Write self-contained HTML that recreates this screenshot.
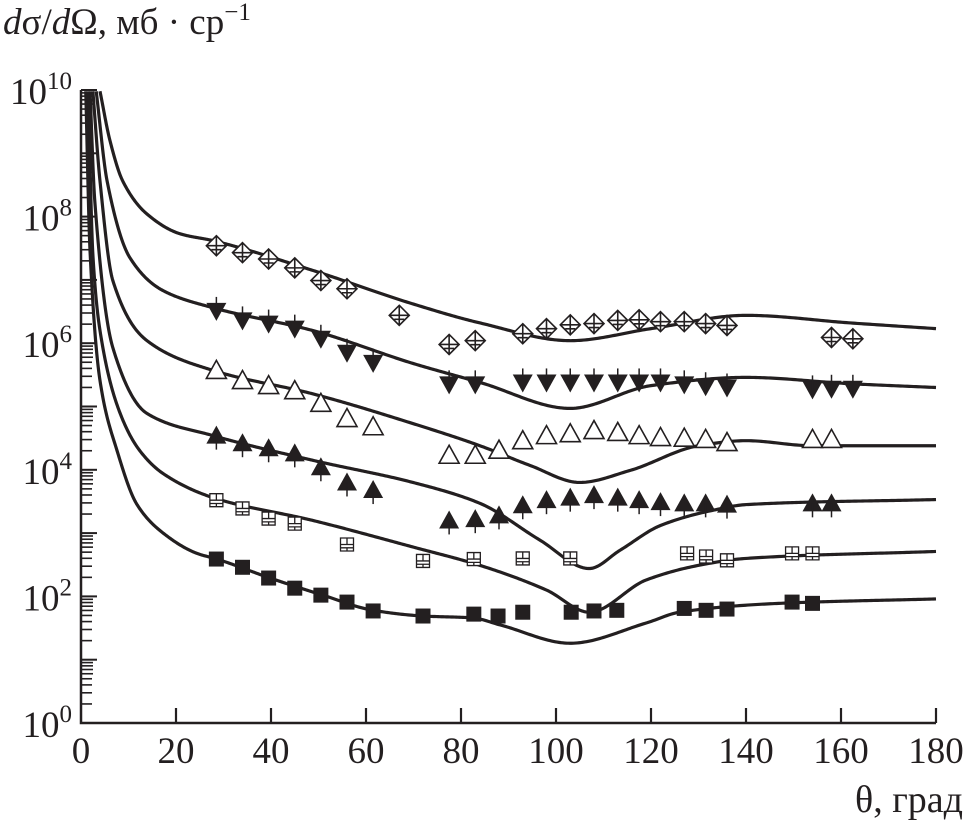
<!DOCTYPE html>
<html><head><meta charset="utf-8"><style>
html,body{margin:0;padding:0;background:#fff;}
svg{display:block;font-family:"Liberation Serif",serif;}
</style></head><body>
<svg id="chart" width="966" height="827" viewBox="0 0 966 827" xmlns="http://www.w3.org/2000/svg">
<text x="3" y="34" font-size="37" fill="#231f20"><tspan font-style="italic">d</tspan>σ/<tspan font-style="italic">d</tspan>Ω, мб · ср<tspan font-size="25" dy="-14">−1</tspan></text>
<text x="963" y="812" font-size="38" fill="#231f20" text-anchor="end">θ, град</text>
<g id="axes"></g><g id="curves"></g><g id="marks"></g>
</svg>
<script>
const xTicks=[0,20,40,60,80,100,120,140,160,180];
const yDecades=[0,2,4,6,8,10];
const curve1T=[4,6.1,8.8,13.9,20.8,27.8,48.8,69.9,84,103,120,140,162,180];
const curve1L=[9.98,9.2,8.56,8.04,7.73,7.62,7.15,6.62,6.32,6.04,6.23,6.44,6.32,6.23];
const curve2T=[3.2,5.5,10.3,17.3,27.8,48.8,69.9,84,103,120,140,162,180];
const curve2L=[9.98,8.56,7.35,6.83,6.56,6.2,5.68,5.38,4.97,5.33,5.46,5.36,5.3];
const curve3T=[2.5,4,6.7,13.9,27.8,48.8,69.9,84,94.5,105,115.6,130,140,154,180];
const curve3L=[9.98,8.56,6.99,6.04,5.57,5.2,4.73,4.38,4.07,3.8,3.99,4.38,4.46,4.38,4.38];
const curve4T=[1.9,2.9,6.7,13.9,27.8,48.8,69.9,84,96.6,107,113.5,122,133,140,180];
const curve4L=[9.98,8.25,5.93,4.89,4.54,4.15,3.8,3.47,2.89,2.44,2.73,3.12,3.36,3.45,3.53];
const curve5T=[1.5,2.5,4,8.2,12.4,17.3,27.8,48.8,69.9,84,98,107,119,130,140,180];
const curve5L=[9.98,7.4,6.2,4.9,4.3,3.94,3.56,3.2,2.78,2.49,2.1,1.75,2.26,2.49,2.6,2.71];
const curve6T=[1,1.9,4,7.6,11.8,17.3,24.4,28.6,39.8,50.9,61.5,72,82.5,88.2,103,119,126,147,180];
const curve6L=[9.98,7.46,5.41,4.3,3.45,3.0,2.68,2.59,2.29,2.02,1.78,1.69,1.66,1.55,1.26,1.58,1.75,1.89,1.96];
const diamT=[28.5,34,39.5,45,50.5,56,67,77.5,83,93,98,103,108,113,117.5,122,127,131.5,136,158,162.5];
const diamL=[7.54,7.43,7.33,7.19,6.99,6.86,6.44,5.98,6.04,6.15,6.23,6.29,6.31,6.36,6.37,6.34,6.34,6.31,6.28,6.09,6.07];
const invT=[28.5,34,39.5,45,50.5,56,61.5,77.5,83,93,98,103,108,113,117.5,122,127,131.5,136,154,158,162.5];
const invL=[6.51,6.36,6.31,6.23,6.07,5.85,5.69,5.35,5.35,5.38,5.38,5.38,5.38,5.38,5.38,5.38,5.35,5.32,5.3,5.27,5.28,5.28];
const openT=[28.5,34,39.5,45,50.5,56,61.5,77.5,83,88,93,98,103,108,113,117.5,122,127,131.5,136,154,158];
const openL=[5.57,5.41,5.33,5.25,5.05,4.81,4.68,4.23,4.23,4.31,4.46,4.54,4.57,4.62,4.59,4.54,4.51,4.5,4.48,4.43,4.48,4.48];
const filledTriT=[28.5,34,39.5,45,50.5,56,61.5,77.5,83,88,93,98,103,108,113,117.5,122,127,131.5,136,154,158];
const filledTriL=[4.54,4.42,4.34,4.26,4.04,3.8,3.68,3.2,3.22,3.28,3.44,3.52,3.56,3.6,3.56,3.52,3.49,3.47,3.47,3.45,3.47,3.47];
const gridSqT=[28.5,34,39.5,45,56,72,82.7,93,103,127.6,131.6,136,149.7,154];
const gridSqL=[3.52,3.39,3.23,3.15,2.82,2.56,2.59,2.6,2.6,2.68,2.63,2.57,2.68,2.68];
const sqT=[28.5,34,39.5,45,50.5,56,61.5,72,82.7,87.8,93,103.2,108,112.8,127,131.6,136,149.7,154];
const sqL=[2.59,2.46,2.29,2.13,2.02,1.91,1.77,1.69,1.72,1.69,1.75,1.75,1.77,1.78,1.81,1.78,1.8,1.91,1.89];

const NS='http://www.w3.org/2000/svg';
const X0=81,X1=936,Y0=723,Y1=90;
function xs(t){return X0+(X1-X0)*t/180;}
function ys(l){return Y0-(Y0-Y1)*l/10;}
function mk(tag,attrs,parent){const e=document.createElementNS(NS,tag);for(const k in attrs)e.setAttribute(k,attrs[k]);parent.appendChild(e);return e;}
const C='#231f20';
const axes=document.getElementById('axes');
let a=mk('path',{d:`M${X0},${Y1} V${Y0} H${X1}`,stroke:C,'stroke-width':2.5,fill:'none'},axes);


xTicks.forEach(t=>{
  const x=xs(t);
  if(t>0){const tk=mk('line',{x1:x,x2:x,y1:Y0,y2:Y0-15,stroke:C,'stroke-width':2.2},axes);
  
  }
  const lb=mk('text',{x:x,y:Y0+40,'font-size':37,'text-anchor':'middle',fill:C},axes);
  lb.textContent=t;
  
  
});
for(let d=0;d<=10;d++){
  const y=ys(d);
  const tk=mk('line',{x1:X0,x2:X0+16,y1:y,y2:y,stroke:C,'stroke-width':2},axes);
  
  
  if(d<10){for(let m=2;m<=9;m++){const yy=ys(d+Math.log10(m));
    const mt=mk('line',{x1:X0,x2:X0+(m>=6?12:11),y1:yy,y2:yy,stroke:C,'stroke-width':1.6},axes);
    
    }}
}
yDecades.forEach(d=>{
  const lb=mk('text',{x:72,y:ys(d)+14,'font-size':37,'text-anchor':'end',fill:C},axes);
  
  
  const t1=mk('tspan',{},lb);t1.textContent='10';
  const t2=mk('tspan',{'font-size':25,dy:-15},lb);t2.textContent=d;
});
const curvesG=document.getElementById('curves');
function monotone(T,L){
  const n=T.length,dl=[],m=new Array(n);
  for(let i=0;i<n-1;i++)dl.push((L[i+1]-L[i])/(T[i+1]-T[i]));
  m[0]=dl[0];m[n-1]=dl[n-2];
  for(let i=1;i<n-1;i++){
    if(dl[i-1]*dl[i]<=0)m[i]=0;
    else{const h0=T[i]-T[i-1],h1=T[i+1]-T[i],w1=2*h1+h0,w2=h1+2*h0;m[i]=(w1+w2)/(w1/dl[i-1]+w2/dl[i]);}
  }
  return function(t){
    let i=0;while(i<n-2&&t>T[i+1])i++;
    const h=T[i+1]-T[i],s=(t-T[i])/h,s2=s*s,s3=s2*s;
    return (2*s3-3*s2+1)*L[i]+(s3-2*s2+s)*h*m[i]+(-2*s3+3*s2)*L[i+1]+(s3-s2)*h*m[i+1];
  };
}
function curve(T,L,name){
  const f=monotone(T,L);
  let d='';
  const t0=T[0],t1=T[T.length-1];
  for(let k=0;k<=600;k++){
    const t=t0+(t1-t0)*Math.pow(k/600,1.6);
    d+=(k?' L':'M')+xs(t).toFixed(2)+','+ys(f(t)).toFixed(2);
  }
  const p=mk('path',{d:d,stroke:C,'stroke-width':3.2,fill:'none','stroke-linejoin':'round'},curvesG);
  
  
}
curve(curve1T,curve1L,'theory-curve-1');
curve(curve2T,curve2L,'theory-curve-2');
curve(curve3T,curve3L,'theory-curve-3');
curve(curve4T,curve4L,'theory-curve-4');
curve(curve5T,curve5L,'theory-curve-5');
curve(curve6T,curve6L,'theory-curve-6');
const marks=document.getElementById('marks');
function series(T,L,kind,name){
  T.forEach((t,i)=>{
    const x=xs(t),y=ys(L[i]);
    const g=mk('g',{},marks);
    
    
    if(kind==='diam'){
      mk('path',{d:`M${x},${y-10} L${x+10},${y} L${x},${y+10} L${x-10},${y} Z M${x-10},${y} H${x+10} M${x},${y-10} V${y+10} M${x-5},${y+4} H${x+5}`,stroke:C,'stroke-width':1.6,fill:'#fff'},g);
    }else if(kind==='inv'){
      mk('path',{d:`M${x-10},${y-8} H${x+10} L${x},${y+10} Z`,fill:C},g);
      mk('line',{x1:x,x2:x,y1:y-14,y2:y+6,stroke:C,'stroke-width':1.5},g);
    }else if(kind==='open'){
      mk('path',{d:`M${x-10},${y+8} H${x+10} L${x},${y-10} Z`,fill:'#fff',stroke:C,'stroke-width':1.6},g);
    }else if(kind==='tri'){
      mk('path',{d:`M${x-10},${y+8} H${x+10} L${x},${y-10} Z`,fill:C},g);
      mk('line',{x1:x,x2:x,y1:y,y2:y+14,stroke:C,'stroke-width':1.5},g);
    }else if(kind==='grid'){
      mk('path',{d:`M${x-6.5},${y-6.5} h13 v13 h-13 Z M${x-6.5},${y} h13 M${x-6.5},${y+3.3} h13 M${x},${y-6.5} v6.5 M${x},${y+3.3} v3.2`,fill:'#fff',stroke:C,'stroke-width':1.3},g);
    }else{
      mk('rect',{x:x-7.5,y:y-7.5,width:15,height:15,fill:C},g);
    }
  });
}
series(diamT,diamL,'diam','diamond-marker');
series(invT,invL,'inv','inverted-triangle-marker');
series(openT,openL,'open','open-triangle-marker');
series(filledTriT,filledTriL,'tri','filled-triangle-marker');
series(gridSqT,gridSqL,'grid','grid-square-marker');
series(sqT,sqL,'sq','filled-square-marker');
</script>
</body></html>
